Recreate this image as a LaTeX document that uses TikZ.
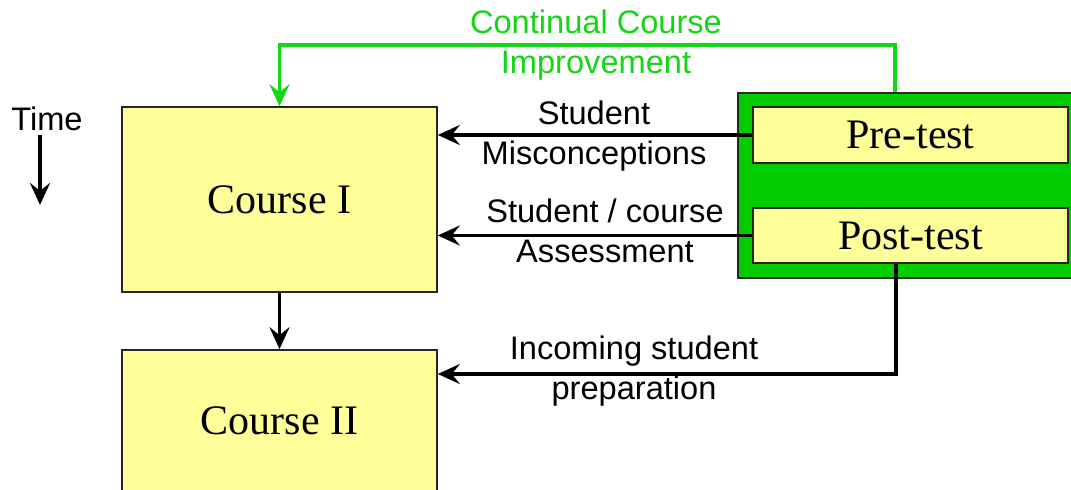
\documentclass[tikz,border=0pt]{standalone}
\usepackage{fontspec}
\setmainfont{Liberation Serif}
\setsansfont{Liberation Sans}
\usetikzlibrary{arrows.meta}
\definecolor{boxyellow}{RGB}{255,255,153}
\definecolor{testgreen}{RGB}{0,204,0}
\definecolor{loopgreen}{RGB}{20,214,20}

\begin{document}
\begin{tikzpicture}[x=0.5pt, y=-0.5pt,
    box/.style={draw=black!85, line width=0.8pt, fill=boxyellow, inner sep=0pt,
        font=\fontsize{21}{25}\selectfont},
    lbl/.style={align=center, inner sep=0pt, font=\sffamily\fontsize{16.3}{20}\selectfont},
    arr/.style={line width=1.8pt, -{Stealth[length=11pt, width=10pt, inset=4pt]}},
    fb/.style={arr, draw=loopgreen}]
    \useasboundingbox (0, 0) rectangle (1071, 490);
        % courses
        \node[box, minimum width=157.5pt, minimum height=92.5pt] (c1) at (279.5, 199.5) {Course I};
        \node[box, minimum width=157.5pt, minimum height=71pt] (c2) at (279.5, 421) {Course II};

        % tests
        \node[draw=black!85, line width=0.8pt, fill=testgreen, minimum width=167.5pt,
            minimum height=92.5pt, inner sep=0pt] (grn) at (905.5, 185.5) {};
        \node[box, minimum width=157.5pt, minimum height=28pt] (pre) at (910.5, 135) {Pre-test};
        \node[box, minimum width=157.5pt, minimum height=27.5pt] (post) at (910.5, 235.5) {Post-test};

        % time
        \node[lbl] (time) at (47, 118.5) {Time};
        \coordinate (tdown) at (40, 205);
        \draw[arr, shorten <=2pt] (time.south -| tdown) to (tdown);

        % connectors
        \draw[arr] (c1.south) to (c2.north);
        \draw[arr] (pre.west) to (c1.east |- pre.west);
        \draw[arr] (post.west) to (c1.east |- post.west);
        \coordinate (turn) at (896, 374);
        \draw[arr] (post.south -| turn) -- (turn) -- (c2.east |- turn);
        \coordinate (loop) at (895, 45);
        \draw[fb] (grn.north -| loop) -- (loop) -| (c1.north);

        % labels
        \node[lbl, text=loopgreen] (improve) at (596, 45) {Continual Course\\Improvement};
        \node[lbl] (miscon) at (594, 136) {Student\\Misconceptions};
        \node[lbl] (assess) at (605, 231) {Student / course\\Assessment};
        \node[lbl] (incoming) at (634, 371) {Incoming student\\preparation};
\end{tikzpicture}
\end{document}
